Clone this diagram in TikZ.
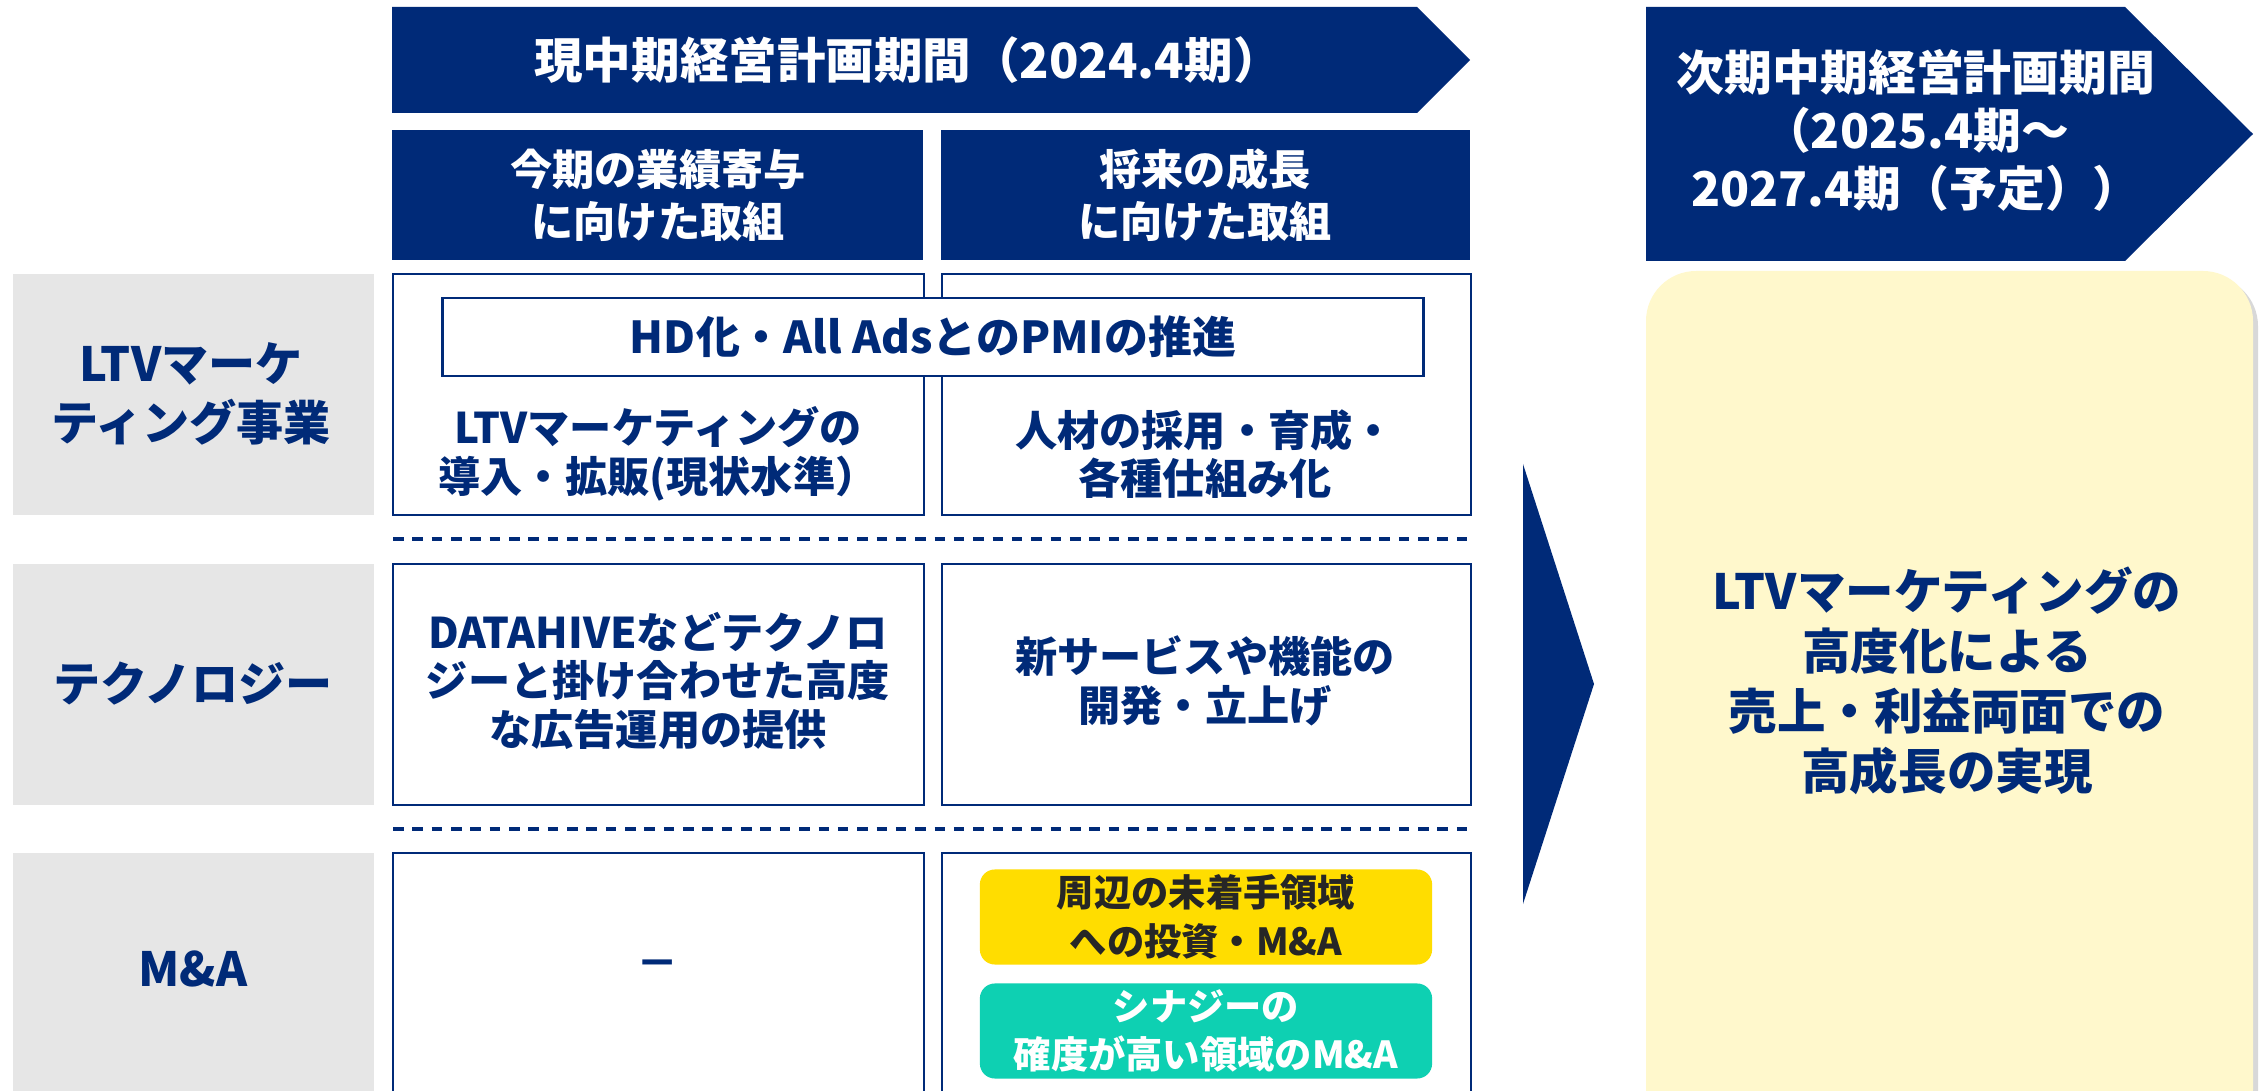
\documentclass[tikz,border=0pt]{standalone}
\usepackage{fontspec}
\setmainfont{Noto Sans CJK JP}
\usetikzlibrary{shadows}
\definecolor{navy}{RGB}{0,42,120}
\definecolor{labelgray}{RGB}{230,230,230}
\definecolor{cream}{RGB}{255,248,204}
\definecolor{gold}{RGB}{255,221,0}
\definecolor{mint}{RGB}{14,208,178}
\begin{document}
\begin{tikzpicture}[x=0.01cm,y=-0.01cm,
		headtext/.style={text=white,font=\bfseries\fontsize{13.8}{16.5}\selectfont,align=center},
		subtext/.style={text=white,font=\bfseries\fontsize{12}{14.8}\selectfont,align=center},
		rowlabel/.style={text=navy,font=\bfseries\fontsize{13.4}{17}\selectfont,align=center},
		celltext/.style={text=navy,font=\bfseries\fontsize{12}{13.8}\selectfont,align=center},
		cell/.style={draw=navy,line width=0.8pt},
		rowsep/.style={navy,line width=1pt,dash pattern=on 3pt off 2.5pt},
		pill/.style={rounded corners=0.15cm,inner ysep=0.5pt,minimum width=4.52cm,minimum height=0.95cm,font=\bfseries\fontsize{10.6}{13.8}\selectfont,align=center}]
		\clip (0,0) rectangle (2262,1091);
		\fill[white] (0,0) rectangle (2262,1091);
		\fill[navy] (392,7) -- (1417,7) -- (1470,60) -- (1417,113) -- (392,113) -- cycle;
		\fill[navy] (392,130) rectangle (923,260);
		\fill[navy] (941,130) rectangle (1470,260);
		\fill[navy] (1646,7) -- (2125,7) -- (2253,134) -- (2125,261) -- (1646,261) -- cycle;
		\node[headtext] (curplan) at (908,60) {現中期経営計画期間（2024.4期）};
		\node[subtext] (nowgoal) at (658,195) {今期の業績寄与\\に向けた取組};
		\node[subtext] (futgoal) at (1205,195) {将来の成長\\に向けた取組};
		\node[headtext,font=\bfseries\fontsize{13.6}{16.5}\selectfont] (nextplan) at (1916,130) {次期中期経営計画期間\\（2025.4期～\\2027.4期（予定））};
		\fill[labelgray] (13,274) rectangle (374,515);
		\fill[labelgray] (13,564) rectangle (374,805);
		\fill[labelgray] (13,853) rectangle (374,1100);
		\draw[cell] (393,274) rectangle (924,515);
		\draw[cell] (942,274) rectangle (1471,515);
		\draw[cell] (393,564) rectangle (924,805);
		\draw[cell] (942,564) rectangle (1471,805);
		\draw[cell] (393,853) rectangle (924,1100);
		\draw[cell] (942,853) rectangle (1471,1100);
		\draw[rowsep] (393,539) -- (1471,539);
		\draw[rowsep] (393,829) -- (1471,829);
		\node[rowlabel] (ltvlabel) at (191,394) {LTVマーケ\\ティング事業};
		\node[rowlabel] (techlabel) at (193,684) {テクノロジー};
		\node[rowlabel] (malabel) at (193,969) {M\&A};
		\node[cell,fill=white,minimum width=9.8cm,minimum height=0.78cm,text=navy,font=\bfseries\fontsize{12.5}{14}\selectfont] (pmi) at (933,337) {HD化・All AdsとのPMIの推進};
		\node[celltext] (ltvnow) at (658,454) {LTVマーケティングの\\導入・拡販(現状水準）};
		\node[celltext] (ltvfut) at (1205,454) {人材の採用・育成・\\各種仕組み化};
		\node[celltext] (technow) at (658,681) {DATAHIVEなどテクノロ\\ジーと掛け合わせた高度\\な広告運用の提供};
		\node[celltext] (techfut) at (1205,681) {新サービスや機能の\\開発・立上げ};
		\node[celltext] (manow) at (658,969) {－};
		\node[pill,fill=gold,text=black!85] (invest) at (1206,917) {周辺の未着手領域\\への投資・M\&A};
		\node[pill,fill=mint,text=white] (synergy) at (1206,1031) {シナジーの\\確度が高い領域のM\&A};
		\fill[navy] (1523,464) -- (1594,684) -- (1523,904) -- cycle;
		\fill[cream,rounded corners=0.5cm,drop shadow={shadow xshift=0.05cm,shadow yshift=-0.05cm,opacity=0.3}] (1646,271) rectangle (2253,1140);
		\node[rowlabel,font=\bfseries\fontsize{13.8}{17}\selectfont] (result) at (1947,681) {LTVマーケティングの\\高度化による\\売上・利益両面での\\高成長の実現};
	\end{tikzpicture}
\end{document}
